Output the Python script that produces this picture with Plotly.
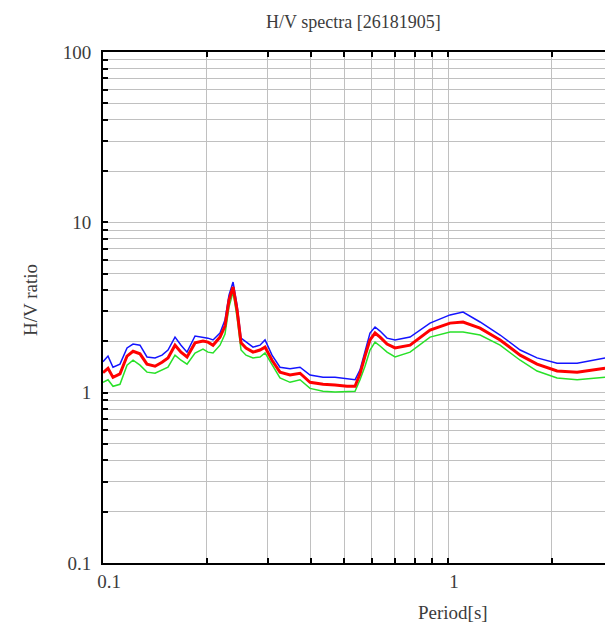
import plotly.graph_objects as go

# Period [s]
period = [0.100, 0.1034, 0.1069, 0.1120, 0.1174, 0.1222, 0.1280, 0.1341, 0.1415, 0.1483,
          0.1543, 0.1617, 0.1683, 0.1752, 0.1848, 0.1949, 0.2015, 0.2084, 0.2183, 0.2257,
          0.2318, 0.2382, 0.2446, 0.2512, 0.2597, 0.2721, 0.2851, 0.2948, 0.3089, 0.3258,
          0.3484, 0.3724, 0.3981, 0.4342, 0.4704, 0.5095, 0.5375, 0.5557, 0.5745, 0.5940,
          0.6143, 0.6352, 0.6655, 0.7020, 0.7760, 0.8867, 1.013, 1.105, 1.238, 1.415,
          1.618, 1.811, 2.070, 2.366, 2.851]

# H/V ratio: mean + std (blue), mean (red), mean - std (green)
hv_upper = [1.52, 1.64, 1.41, 1.47, 1.83, 1.93, 1.90, 1.62, 1.60, 1.66,
            1.78, 2.12, 1.90, 1.73, 2.15, 2.12, 2.09, 2.04, 2.24, 2.67,
            3.74, 4.46, 3.27, 2.09, 1.98, 1.85, 1.90, 2.04, 1.66, 1.41,
            1.38, 1.41, 1.27, 1.23, 1.23, 1.20, 1.19, 1.36, 1.78, 2.24,
            2.43, 2.30, 2.09, 2.04, 2.12, 2.56, 2.86, 2.97, 2.60, 2.18,
            1.78, 1.60, 1.49, 1.49, 1.60]
hv_mean = [1.31, 1.39, 1.23, 1.29, 1.64, 1.75, 1.69, 1.47, 1.43, 1.51,
           1.60, 1.90, 1.73, 1.62, 1.96, 2.01, 1.98, 1.90, 2.12, 2.46,
           3.50, 4.17, 3.06, 1.96, 1.83, 1.73, 1.78, 1.85, 1.55, 1.32,
           1.27, 1.30, 1.15, 1.12, 1.11, 1.09, 1.09, 1.29, 1.64, 2.04,
           2.24, 2.12, 1.93, 1.83, 1.90, 2.33, 2.56, 2.60, 2.39, 2.04,
           1.66, 1.47, 1.34, 1.32, 1.39]
hv_lower = [1.15, 1.19, 1.09, 1.12, 1.45, 1.55, 1.45, 1.32, 1.30, 1.36,
            1.41, 1.66, 1.55, 1.47, 1.71, 1.80, 1.73, 1.71, 1.90, 2.21,
            3.18, 3.90, 2.78, 1.78, 1.66, 1.60, 1.62, 1.71, 1.45, 1.22,
            1.15, 1.19, 1.06, 1.02, 1.01, 1.02, 1.02, 1.19, 1.43, 1.78,
            1.98, 1.88, 1.73, 1.62, 1.73, 2.12, 2.27, 2.27, 2.18, 1.90,
            1.55, 1.34, 1.22, 1.19, 1.23]

x_ticks = [0.1, 0.2, 0.3, 0.4, 0.5, 0.6, 0.7, 0.8, 0.9, 1, 2, 3]
x_ticktext = ["0.1", "", "", "", "", "", "", "", "", "1", "", ""]
y_ticks = [0.1, 0.2, 0.3, 0.4, 0.5, 0.6, 0.7, 0.8, 0.9,
           1, 2, 3, 4, 5, 6, 7, 8, 9,
           10, 20, 30, 40, 50, 60, 70, 80, 90, 100]
y_ticktext = ["0.1"] + [""] * 8 + ["1"] + [""] * 8 + ["10"] + [""] * 8 + ["100"]

title_text = "H/V spectra [26181905]"
x_title = "Period[s]"
y_title = "H/V ratio"

FONT = "Liberation Serif"
GRID = "rgb(192,192,192)"
TXT = "rgb(60,60,60)"

fig = go.Figure()
fig.add_trace(go.Scatter(x=period, y=hv_upper, mode="lines",
                         line=dict(color="rgb(20,20,255)", width=1.5), showlegend=False))
fig.add_trace(go.Scatter(x=period, y=hv_lower, mode="lines",
                         line=dict(color="rgb(40,225,40)", width=1.5), showlegend=False))
fig.add_trace(go.Scatter(x=period, y=hv_mean, mode="lines",
                         line=dict(color="rgb(255,0,0)", width=3), showlegend=False))

fig.update_layout(
    width=605, height=635,
    margin=dict(l=103, r=0, t=52, b=72),
    paper_bgcolor="white", plot_bgcolor="white",
    font=dict(family=FONT, color=TXT),
    xaxis=dict(type="log", range=[-1, 0.4548],
               tickvals=x_ticks, ticktext=x_ticktext,
               showgrid=True, gridcolor=GRID, gridwidth=1,
               ticks="inside", ticklen=5, tickcolor="black", tickwidth=1.5,
               showline=True, linecolor="black", linewidth=2, mirror="ticks",
               tickfont=dict(family=FONT, size=19, color=TXT),
               ticklabelshift=6, zeroline=False),
    yaxis=dict(type="log", range=[-1, 2],
               tickvals=y_ticks, ticktext=y_ticktext,
               showgrid=True, gridcolor=GRID, gridwidth=1,
               ticks="inside", ticklen=5, tickcolor="black", tickwidth=1.5,
               showline=True, linecolor="black", linewidth=2, mirror=False,
               tickfont=dict(family=FONT, size=19, color=TXT),
               ticklabelstandoff=6, zeroline=False),
    annotations=[
        dict(text=title_text, xref="paper", yref="paper",
             x=(353 - 103) / 502, y=1 + (52 - 22) / 511, showarrow=False,
             xanchor="center", yanchor="middle",
             font=dict(family=FONT, size=18, color=TXT)),
        dict(text=x_title, xref="paper", yref="paper",
             x=(453 - 103) / 502, y=-(613 - 563) / 511, showarrow=False,
             xanchor="center", yanchor="middle",
             font=dict(family=FONT, size=19, color=TXT)),
        dict(text=y_title, xref="paper", yref="paper",
             x=-(103 - 30) / 502, y=(563 - 300) / 511, showarrow=False,
             xanchor="center", yanchor="middle", textangle=-90,
             font=dict(family=FONT, size=19, color=TXT)),
    ],
)

fig.write_html(
    "out.html",
    config={"displayModeBar": False},
    post_script="document.body.style.margin='0';document.body.style.overflow='hidden';",
)
